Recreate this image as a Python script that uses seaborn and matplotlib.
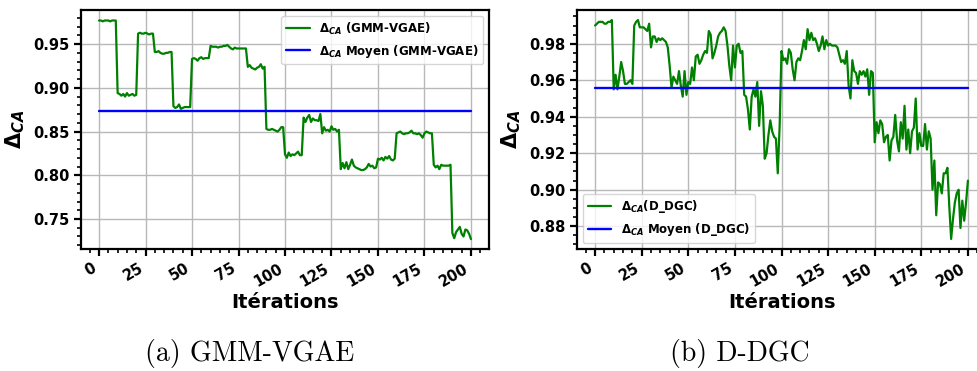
import matplotlib
matplotlib.use("Agg")
import matplotlib.pyplot as plt
from matplotlib.ticker import AutoMinorLocator
import numpy as np
import pandas as pd
import seaborn as sns

# ---------------- data ----------------
iterations = list(range(0, 201))

gmm_vgae = [
    0.977, 0.977, 0.976, 0.977, 0.977, 0.977, 0.976, 0.977, 0.977, 0.977,
    0.894, 0.893, 0.891, 0.893, 0.890, 0.894, 0.891, 0.892, 0.893, 0.891, 0.892,
    0.962, 0.963, 0.962, 0.962, 0.963, 0.962, 0.961, 0.962, 0.962,
    0.941, 0.941, 0.942, 0.940, 0.939, 0.939, 0.940, 0.940, 0.941, 0.941,
    0.879, 0.877, 0.878, 0.881, 0.876, 0.877, 0.878, 0.878, 0.878, 0.878,
    0.933, 0.934, 0.933, 0.931, 0.934, 0.935, 0.933, 0.934, 0.934, 0.934,
    0.948, 0.947, 0.947, 0.947, 0.946, 0.947, 0.947, 0.948, 0.948, 0.949,
    0.947, 0.945, 0.944, 0.946, 0.945, 0.945, 0.945, 0.945, 0.945, 0.945,
    0.924, 0.926, 0.923, 0.922, 0.921, 0.923, 0.924, 0.927, 0.922, 0.924,
    0.853, 0.852, 0.852, 0.853, 0.852, 0.851, 0.850, 0.852, 0.855, 0.855,
    0.824, 0.820, 0.826, 0.822, 0.824, 0.823, 0.825, 0.827, 0.823, 0.823,
    0.866, 0.861, 0.866, 0.869, 0.861, 0.865, 0.863, 0.863, 0.862, 0.870,
    0.848, 0.855, 0.851, 0.852, 0.850, 0.856, 0.852, 0.853, 0.850, 0.852,
    0.807, 0.814, 0.808, 0.815, 0.807, 0.812, 0.818, 0.811, 0.809, 0.808,
    0.807, 0.806, 0.806, 0.807, 0.809, 0.813, 0.810, 0.811, 0.808, 0.809,
    0.819, 0.818, 0.820, 0.817, 0.821, 0.819, 0.822, 0.818, 0.817, 0.819,
    0.848, 0.849, 0.850, 0.848, 0.847, 0.848, 0.848, 0.849, 0.851, 0.848,
    0.848, 0.847, 0.848, 0.846, 0.843, 0.848, 0.850, 0.849, 0.848, 0.848,
    0.812, 0.809, 0.811, 0.807, 0.812, 0.811, 0.811, 0.811, 0.811, 0.812,
    0.734, 0.728, 0.735, 0.738, 0.741, 0.733, 0.730, 0.738, 0.737, 0.733, 0.727,
]

d_dgc = [
    0.990, 0.991, 0.992, 0.992, 0.992, 0.991, 0.991, 0.992, 0.992, 0.993,
    0.955, 0.963, 0.955, 0.962, 0.970, 0.965, 0.958, 0.958, 0.959, 0.960,
    0.958, 0.990, 0.992, 0.993, 0.989, 0.989, 0.989, 0.988, 0.987, 0.991,
    0.978, 0.984, 0.984, 0.981, 0.983, 0.982, 0.983, 0.982, 0.981, 0.978,
    0.968, 0.956, 0.962, 0.960, 0.958, 0.965, 0.957, 0.951, 0.965, 0.952,
    0.959, 0.958, 0.967, 0.960, 0.973, 0.974, 0.969, 0.971, 0.974, 0.976,
    0.975, 0.987, 0.985, 0.972, 0.975, 0.979, 0.984, 0.986, 0.987, 0.989,
    0.987, 0.979, 0.968, 0.960, 0.979, 0.967, 0.979, 0.980, 0.975, 0.976,
    0.952, 0.951, 0.944, 0.933, 0.951, 0.955, 0.951, 0.959, 0.935, 0.954,
    0.946, 0.917, 0.920, 0.930, 0.938, 0.932, 0.929, 0.928, 0.909, 0.935,
    0.976, 0.971, 0.972, 0.969, 0.977, 0.975, 0.966, 0.960, 0.970, 0.972,
    0.971, 0.976, 0.982, 0.977, 0.988, 0.982, 0.986, 0.982, 0.983, 0.980,
    0.976, 0.979, 0.984, 0.977, 0.982, 0.979, 0.980, 0.979, 0.979, 0.979,
    0.978, 0.974, 0.970, 0.971, 0.969, 0.976, 0.957, 0.950, 0.971, 0.965,
    0.964, 0.958, 0.965, 0.963, 0.965, 0.962, 0.966, 0.952, 0.965, 0.964,
    0.926, 0.937, 0.931, 0.938, 0.936, 0.926, 0.929, 0.930, 0.916, 0.927,
    0.929, 0.941, 0.927, 0.921, 0.937, 0.928, 0.946, 0.922, 0.933, 0.920,
    0.932, 0.934, 0.950, 0.922, 0.931, 0.924, 0.924, 0.936, 0.922, 0.932,
    0.928, 0.900, 0.916, 0.886, 0.904, 0.903, 0.898, 0.909, 0.909, 0.912,
    0.891, 0.873, 0.884, 0.893, 0.898, 0.900, 0.879, 0.894, 0.883, 0.893, 0.905,
]

mean_gmm_vgae = 0.873
mean_d_dgc = 0.9558
mean_span = [0, 200]

xticks = [0, 25, 50, 75, 100, 125, 150, 175, 200]
yticks_left = [0.75, 0.80, 0.85, 0.90, 0.95]
yticks_right = [0.88, 0.90, 0.92, 0.94, 0.96, 0.98]

label_left = r"$\mathbf{\Delta}_{\mathbfit{CA}}$ (GMM-VGAE)"
label_left_mean = r"$\mathbf{\Delta}_{\mathbfit{CA}}$ Moyen (GMM-VGAE)"
label_right = r"$\mathbf{\Delta}_{\mathbfit{CA}}$(D_DGC)"
label_right_mean = r"$\mathbf{\Delta}_{\mathbfit{CA}}$ Moyen (D_DGC)"
ylabel = r"$\mathbf{\Delta}_{\mathbfit{CA}}$"
xlabel = "Itérations"
captions = ["(a) GMM-VGAE", "(b) D-DGC"]

# ---------------- style ----------------
sns.set_theme(style="whitegrid")
plt.rcParams["font.family"] = ["DejaVu Sans"]
plt.rcParams["mathtext.fontset"] = "dejavusans"
plt.rcParams["text.color"] = "black"
plt.rcParams["axes.labelcolor"] = "black"
plt.rcParams["xtick.color"] = "black"
plt.rcParams["ytick.color"] = "black"

W, H = 977, 371
fig = plt.figure(figsize=(W / 100, H / 100), dpi=100)

ax1 = fig.add_axes([81 / W, (H - 249) / H, 408 / W, 239 / H])
ax2 = fig.add_axes([577 / W, (H - 249) / H, 409 / W, 239 / H])

df_left = pd.DataFrame({"it": iterations, "val": gmm_vgae})
df_right = pd.DataFrame({"it": iterations, "val": d_dgc})
df_lm = pd.DataFrame({"it": mean_span, "val": [mean_gmm_vgae] * 2})
df_rm = pd.DataFrame({"it": mean_span, "val": [mean_d_dgc] * 2})

sns.lineplot(data=df_left, x="it", y="val", ax=ax1, color="green", lw=1.6, label=label_left)
sns.lineplot(data=df_lm, x="it", y="val", ax=ax1, color="blue", lw=1.7, label=label_left_mean)
sns.lineplot(data=df_right, x="it", y="val", ax=ax2, color="green", lw=1.6, label=label_right)
sns.lineplot(data=df_rm, x="it", y="val", ax=ax2, color="blue", lw=1.7, label=label_right_mean)

ax1.set_ylim(0.7157, 0.989)
ax2.set_ylim(0.8675, 0.9985)
for ax, yt in ((ax1, yticks_left), (ax2, yticks_right)):
    ax.set_xlim(-9.7, 209.7)
    ax.set_xticks(xticks)
    ax.set_yticks(yt)
    ax.set_yticklabels([f"{v:.2f}" for v in yt])
    ax.xaxis.set_minor_locator(AutoMinorLocator())
    ax.yaxis.set_minor_locator(AutoMinorLocator())
    ax.grid(True, which="major", color="#b8b8b8", lw=1.0)
    ax.grid(False, which="minor")
    for s in ax.spines.values():
        s.set_color("black")
        s.set_linewidth(1.6)
    ax.tick_params(which="major", direction="out", length=5, width=1.6,
                   color="black", labelcolor="black", left=True, bottom=True,
                   labelsize=10.5)
    ax.tick_params(which="minor", direction="out", length=3, width=1.2,
                   color="black", left=True, bottom=True)
    for lab in ax.get_xticklabels():
        lab.set_rotation(30)
        lab.set_ha("right")
        lab.set_fontweight("bold")
    for lab in ax.get_yticklabels():
        lab.set_fontweight("bold")
    ax.set_xlabel(xlabel, fontsize=14, fontweight="bold", labelpad=3, color="black")
    ax.set_ylabel(ylabel, fontsize=15, fontweight="bold", labelpad=4, color="black")

ax1.legend(loc="upper right", prop={"weight": "bold", "size": 8.5})
ax2.legend(loc="lower left", prop={"weight": "bold", "size": 8.5})

fig.text(250 / W, 1 - 353 / H, captions[0], fontsize=20, family="cmr10",
         ha="center", va="center", color="black")
fig.text(740 / W, 1 - 353 / H, captions[1], fontsize=20, family="cmr10",
         ha="center", va="center", color="black")

fig.savefig("out.png", dpi=100, facecolor="white")
